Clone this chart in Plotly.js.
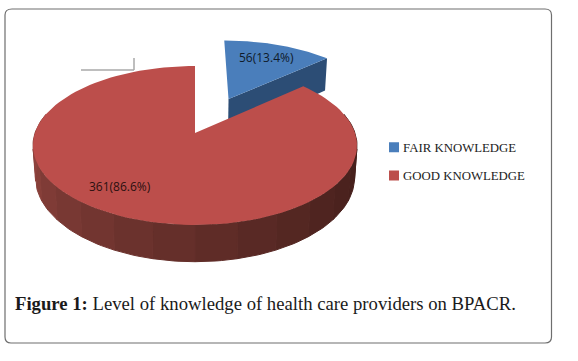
<!DOCTYPE html>
<html><head><meta charset="utf-8">
<script src="https://cdn.plot.ly/plotly-3.0.1.min.js"></script>
<style>html,body{margin:0;padding:0;background:#fff}#c{width:578px;height:361px}</style>
</head><body><div id="c"></div>
<script>
const categories = ["FAIR KNOWLEDGE", "GOOD KNOWLEDGE"];
const counts = [56, 361];
const percentLabels = ["13.4%", "86.6%"];
const captionBold = "Figure 1:";
const captionText = " Level of knowledge of health care providers on BPACR.";

const total = counts[0] + counts[1];
const split = 2 * Math.PI * counts[0] / total;
const view = {cx:195, cy:133, R:160, S:77.5, k:0.157};
function project(t, du, dv, r, H){
  const u = du + r*Math.sin(t), v = dv + r*Math.cos(t), w = 1 + view.k*v;
  const shrink = H ? 0.985 : 1;
  return [view.cx + shrink*view.R*u/w, view.cy - view.S*v/w + (H||0)/w];
}
function sector(t0, t1, du, dv){
  const xs=[], ys=[], n=120;
  const a=project(0,du,dv,0); xs.push(a[0]); ys.push(a[1]);
  for(let i=0;i<=n;i++){const p=project(t0+(t1-t0)*i/n,du,dv,1); xs.push(p[0]); ys.push(p[1]);}
  xs.push(a[0]); ys.push(a[1]);
  return {x:xs,y:ys};
}
function poly(s,color,w){
  return Object.assign({type:'scatter',mode:'lines',fill:'toself',fillcolor:color,
    line:{color:color,width:w||0},hoverinfo:'skip',showlegend:false},s);
}
const traces=[];
const bd={du:0.225,dv:0.47,H:38};
const ba=project(0,bd.du,bd.dv,0), br=project(split,bd.du,bd.dv,1);
const ba2=project(0,bd.du,bd.dv,0,bd.H), br2=project(split,bd.du,bd.dv,1,bd.H);
traces.push(poly({x:[ba[0],br[0],br2[0],ba2[0],ba[0]],y:[ba[1],br[1],br2[1],ba2[1],ba[1]]},'#2c4d75',0));
traces.push(poly(sector(0,split,bd.du,bd.dv),'#4a7ebb',0));
const H=31, bands=16, t0=Math.PI*0.42, t1=Math.PI*1.58;
const dark=[66,30,26], light=[150,70,64];
for(let b=0;b<bands;b++){
  const xs=[],ys=[],bx=[],by=[];
  for(let i=0;i<=8;i++){
    const t=t0+(t1-t0)*(b+i/8)/bands;
    const p=project(t,0,0,1), q=project(t,0,0,1,H);
    xs.push(p[0]);ys.push(p[1]);bx.unshift(q[0]);by.unshift(q[1]);
  }
  const f=Math.pow(b/(bands-1),1.4);
  const c=dark.map((d,i)=>Math.round(d+(light[i]-d)*f));
  traces.push(poly({x:xs.concat(bx,[xs[0]]),y:ys.concat(by,[ys[0]])},'rgb('+c.join(',')+')',1));
}
traces.push(poly(sector(split,2*Math.PI,0,0),'#bc4e4b',0));
const swatch=['#4a7ebb','#bc4e4b'];
categories.forEach((n,i)=>traces.push({type:'scatter',mode:'markers',x:[null],y:[null],name:n,legendgroup:'g'+i,
  marker:{symbol:'square',size:10,color:swatch[i]},hoverinfo:'skip'}));

const layout={
  width:578,height:361,margin:{l:0,r:0,t:0,b:0},paper_bgcolor:'#fff',plot_bgcolor:'#fff',
  xaxis:{range:[0,578],visible:false,fixedrange:true},
  yaxis:{range:[361,0],visible:false,fixedrange:true},
  showlegend:true,
  legend:{x:0.654,y:0.633,xanchor:'left',yanchor:'top',bgcolor:'rgba(0,0,0,0)',itemwidth:30,indentation:-15,
    tracegroupgap:8.5,font:{family:'"Liberation Serif",serif',size:12.8,color:'#222'}},
  shapes:[
    {type:'path',path:'M 12 9 L 545 9 Q 551.5 9 551.5 15 L 551.5 337 Q 551.5 343 545 343 L 11 343 Q 5 343 5 337 L 5 15 Q 5 9 12 9 Z',
     line:{color:'#6e6e6e',width:1.2},fillcolor:'rgba(0,0,0,0)',layer:'below'},
    {type:'line',x0:81,x1:134,y0:70,y1:70,line:{color:'#a8a8a8',width:1.5}},
    {type:'line',x0:134,x1:134,y0:58,y1:70,line:{color:'#a8a8a8',width:1.5}}
  ],
  annotations:[
    {x:266,y:57,xref:'x',yref:'y',showarrow:false,text:counts[0]+'('+percentLabels[0]+')',font:{family:'"Open Sans",sans-serif',size:12,color:'#0f1a2a'}},
    {x:120,y:186,xref:'x',yref:'y',showarrow:false,text:counts[1]+'('+percentLabels[1]+')',font:{family:'"Open Sans",sans-serif',size:12,color:'#2a1010'}},
    {x:13,y:303,xref:'x',yref:'y',xanchor:'left',showarrow:false,text:'<b>'+captionBold+'</b>'+captionText,font:{family:'"Liberation Serif",serif',size:18.7,color:'#1a1a1a'}}
  ]
};
Plotly.newPlot('c',traces,layout,{displayModeBar:false,staticPlot:true}).then(()=>{
  document.querySelectorAll('#c .legend .legendsymbols').forEach(g=>g.setAttribute('transform','translate(11,0)'));
});
</script></body></html>
